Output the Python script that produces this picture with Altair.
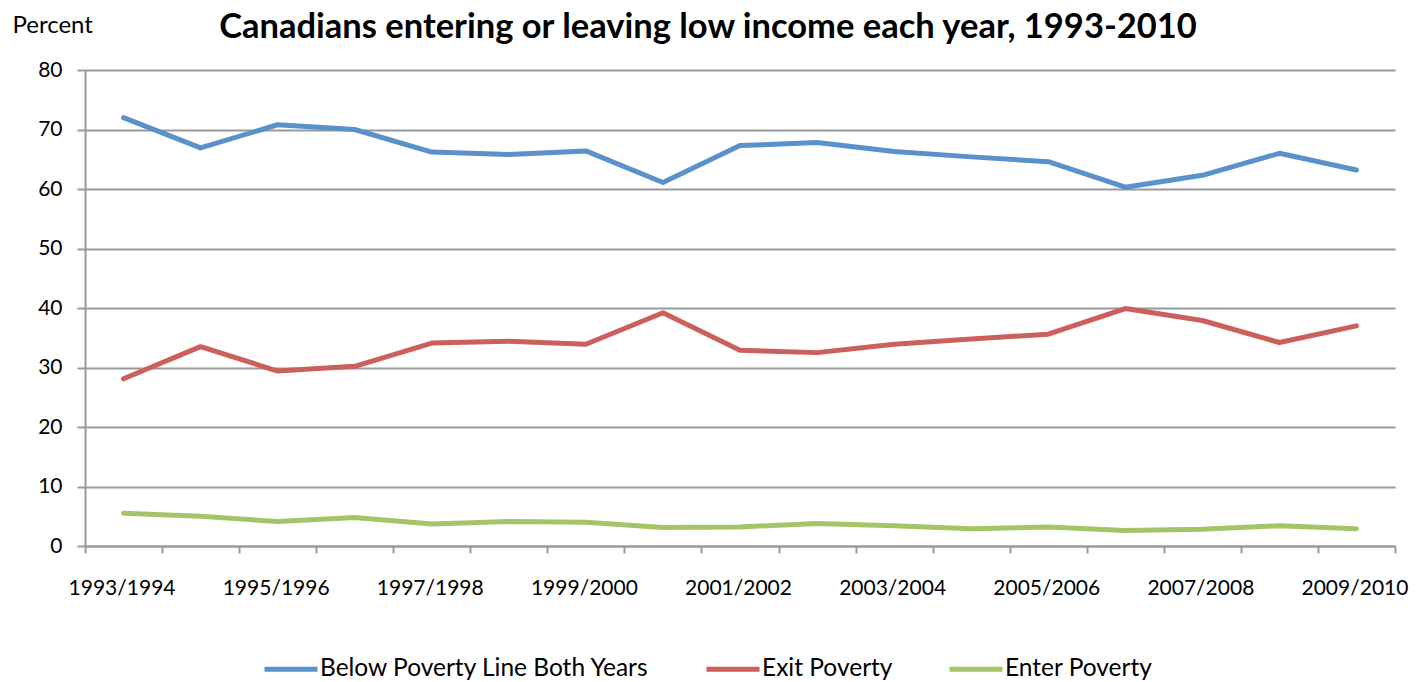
import json
import altair as alt
import pandas as pd

periods = ["1993/1994", "1994/1995", "1995/1996", "1996/1997", "1997/1998", "1998/1999",
           "1999/2000", "2000/2001", "2001/2002", "2002/2003", "2003/2004", "2004/2005",
           "2005/2006", "2006/2007", "2007/2008", "2008/2009", "2009/2010"]
below_both = [72.0, 66.9, 70.8, 70.0, 66.2, 65.8, 66.4, 61.1, 67.3, 67.8, 66.3, 65.4,
              64.6, 60.3, 62.3, 66.0, 63.2]
exit_poverty = [28.1, 33.5, 29.4, 30.2, 34.1, 34.4, 33.9, 39.2, 32.9, 32.5, 33.9, 34.8,
                35.6, 39.9, 37.9, 34.2, 37.0]
enter_poverty = [5.5, 5.0, 4.1, 4.8, 3.7, 4.1, 4.0, 3.1, 3.2, 3.8, 3.4, 2.9,
                 3.2, 2.6, 2.8, 3.4, 2.9]
series_names = ["Below Poverty Line Both Years", "Exit Poverty", "Enter Poverty"]
series_colors = ["#5A91CA", "#CB5F5B", "#A4C468"]
y_ticks = [0, 10, 20, 30, 40, 50, 60, 70, 80]

rows = []
for name, vals in zip(series_names, [below_both, exit_poverty, enter_poverty]):
    for i, (p, v) in enumerate(zip(periods, vals)):
        rows.append({"period": p, "pos": i + 0.5, "value": v, "series": name})
df = pd.DataFrame(rows)

n = len(periods)
plot_w, plot_h = 1310, 476
label_expr = ("(datum.value % 2 == 0) && (datum.value < " + str(n) + ") ? "
              + json.dumps(periods) + "[datum.value] : ''")

FONT = "Lato"

chart = alt.Chart(df).mark_line(strokeWidth=5, strokeCap="round", strokeJoin="round").encode(
    x=alt.X("pos:Q",
            scale=alt.Scale(domain=[0, n], nice=False, zero=False),
            axis=alt.Axis(values=list(range(n + 1)), labelExpr=label_expr,
                          labelOffset=plot_w / n / 2 - 2, labelFlush=False, labelOverlap=False,
                          labelBound=False, grid=False, tickSize=7, tickColor="#999999",
                          tickWidth=2, domainColor="#999999", domainWidth=2,
                          labelFont=FONT, labelFontSize=21, labelColor="#000000",
                          labelPadding=24, title=None)),
    y=alt.Y("value:Q",
            scale=alt.Scale(domain=[0, 80], nice=False),
            axis=alt.Axis(values=y_ticks, grid=True, gridColor="#999999", gridWidth=2,
                          tickSize=8, tickColor="#999999", tickWidth=2,
                          domainColor="#999999", domainWidth=2,
                          labelFont=FONT, labelFontSize=21, labelColor="#000000",
                          labelPadding=15,
                          title="Percent", titleAngle=0, titleAlign="left",
                          titleBaseline="alphabetic", titleX=-73, titleY=-38,
                          titleFont=FONT, titleFontSize=24, titleFontWeight="normal",
                          titleColor="#000000")),
    color=alt.Color("series:N",
                    scale=alt.Scale(domain=series_names, range=series_colors),
                    legend=alt.Legend(orient="none", legendX=177, legendY=570,
                                      direction="horizontal", title=None,
                                      symbolType="stroke", symbolSize=2809,
                                      symbolStrokeWidth=5, labelFont=FONT,
                                      labelFontSize=24.5, labelColor="#000000",
                                      labelLimit=0,
                                      labelOffset=0, columnPadding=46)),
).properties(
    width=plot_w,
    height=plot_h,
    background="white",
    title=alt.TitleParams("Canadians entering or leaving low income each year, 1993-2010",
                          font=FONT, fontSize=34.5, fontWeight="bold", color="#000000",
                          anchor="middle", frame="group", dx=-32, offset=0, dy=59,
                          baseline="alphabetic"),
    autosize=alt.AutoSizeParams(type="none"),
    padding={"left": 77, "top": 62, "right": 23, "bottom": 136},
).configure_view(stroke=None)

chart.save("out.html", embed_options={"renderer": "svg", "actions": False})
